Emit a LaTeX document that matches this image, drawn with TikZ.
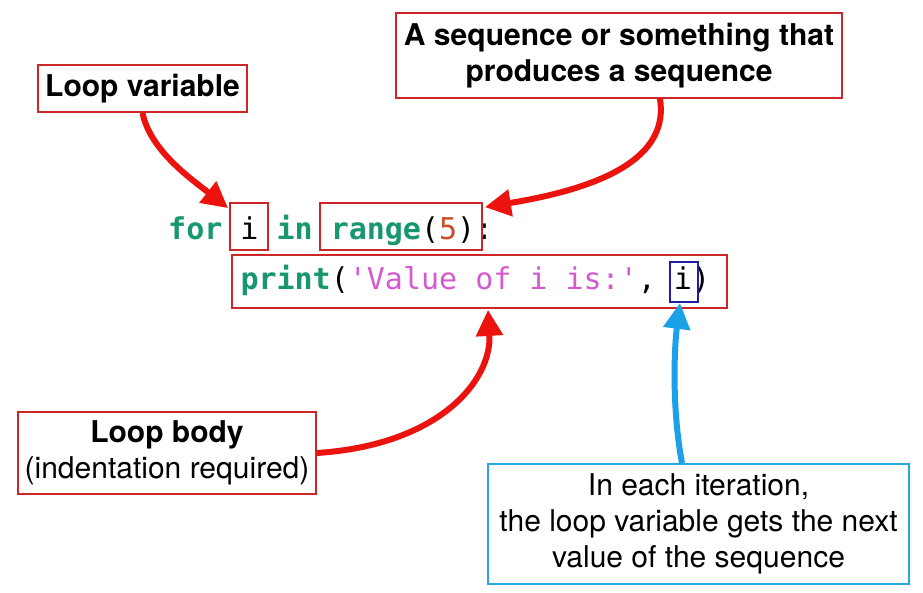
\documentclass[tikz,border=0pt]{standalone}
\usepackage{fontspec}
\setmainfont{TeX Gyre Heros}
\newfontfamily\codefont{DejaVu Sans Mono}
\usetikzlibrary{arrows.meta,calc}
\definecolor{kw}{RGB}{24,150,112}
\definecolor{strc}{RGB}{212,90,206}
\definecolor{numc}{RGB}{200,78,42}
\definecolor{boxred}{RGB}{205,38,38}
\definecolor{arrred}{RGB}{236,18,14}
\definecolor{arrblue}{RGB}{28,160,232}
\definecolor{boxblue}{RGB}{40,166,226}
\definecolor{ivblue}{RGB}{30,30,165}
\tikzset{
  lbl/.style={draw=boxred, line width=1.8pt, inner sep=0pt, align=center,
    font=\fontsize{30}{36}\selectfont},
  codebox/.style={draw=boxred, line width=1.8pt, inner sep=0pt},
  codeline/.style={inner sep=0pt, anchor=base west, font=\codefont\fontsize{30}{36}\selectfont},
  redarrow/.style={draw=arrred, line width=6pt, -{Triangle[length=26pt,width=26pt]}},
  bluearrow/.style={draw=arrblue, line width=6pt, -{Triangle[length=26pt,width=26pt]}},
}
\begin{document}
\begin{tikzpicture}[x=1pt,y=-1pt]
\useasboundingbox (0,0) rectangle (923,593);
% code
\node[codeline] (line1) at (168,240) {\textcolor{kw}{\bfseries for} i \textcolor{kw}{\bfseries in} \textcolor{kw}{\bfseries range}(\textcolor{numc}{5}):};
\node[codeline] (line2) at (240.3,290) {\textcolor{kw}{\bfseries print}(\textcolor{strc}{\textquotesingle Value of i is:\textquotesingle}, i)};
% code boxes
\node[codebox, minimum width=38pt, minimum height=47pt] (ibox) at (249,226.5) {};
\node[codebox, minimum width=162pt, minimum height=47pt] (rangebox) at (401,226.5) {};
\node[codebox, minimum width=495pt, minimum height=53pt] (bodybox) at (479.5,281.5) {};
\node[draw=ivblue, line width=1.8pt, inner sep=0pt, minimum width=28pt, minimum height=40pt] (ivbox) at (684,282) {};
% labels
\node[lbl, minimum width=209pt, minimum height=47pt] (lv) at (142.5,88.5) {\bfseries Loop variable};
\node[lbl, minimum width=446pt, minimum height=85pt] (seq) at (619,55.5) {\bfseries A sequence or something that\\\bfseries produces a sequence};
\node[lbl, minimum width=298pt, minimum height=82pt] (lb) at (167,453) {\bfseries Loop body\\(indentation required)};
\node[lbl, draw=boxblue, minimum width=421pt, minimum height=120pt] (iter) at (698.5,524) {In each iteration,\\the loop variable gets the next\\value of the sequence};
% arrows
\draw[redarrow] (lv.south) .. controls (150,150) and (190,178) .. ($(ibox.north west)+(-1,6)$);
\draw[redarrow] ($(seq.south)+(41,0)$) .. controls (668,150) and (620,185) .. ($(rangebox.north east)+(2,5)$);
\draw[redarrow] (lb.east) .. controls (440,445) and (492,380) .. ($(bodybox.south)+(8.5,1)$);
\draw[bluearrow] ($(iter.north)+(-16.5,0)$) .. controls (672,410) and (674,350) .. ($(ivbox.south)+(-4,0)$);
\end{tikzpicture}
\end{document}
